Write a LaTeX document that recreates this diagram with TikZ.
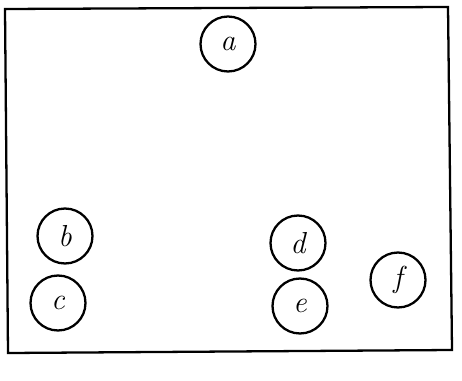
\documentclass[tikz,border=0pt]{standalone}
\usetikzlibrary{shapes, positioning, calc}

\tikzset{
  letter/.style={draw, line width=1.3pt, circle, minimum size=1.1cm, inner sep=0pt, font=\LARGE\itshape},
  frame/.style={line width=1.3pt, line cap=round}
}

\begin{document}
\begin{tikzpicture}[x=0.02cm, y=-0.02cm]

\useasboundingbox (0, 0) rectangle (462, 381);

% outer box
\coordinate (tl) at (5, 9);
\coordinate (tr) at (448, 7);
\coordinate (bl) at (8, 353);
\coordinate (br) at (452, 350);
\draw [frame] (tl) -- (tr) -- (br) -- (bl) -- cycle;

% letters
\node [letter] (a) at (228, 44) {a};
\node [letter] (b) at (65, 236) {b};
\node [letter] (c) at (58, 303) {c};
\node [letter] (d) at (298, 243) {d};
\node [letter] (e) at (300, 306) {e};
\node [letter] (f) at (398, 280) {f};

\end{tikzpicture}
\end{document}
